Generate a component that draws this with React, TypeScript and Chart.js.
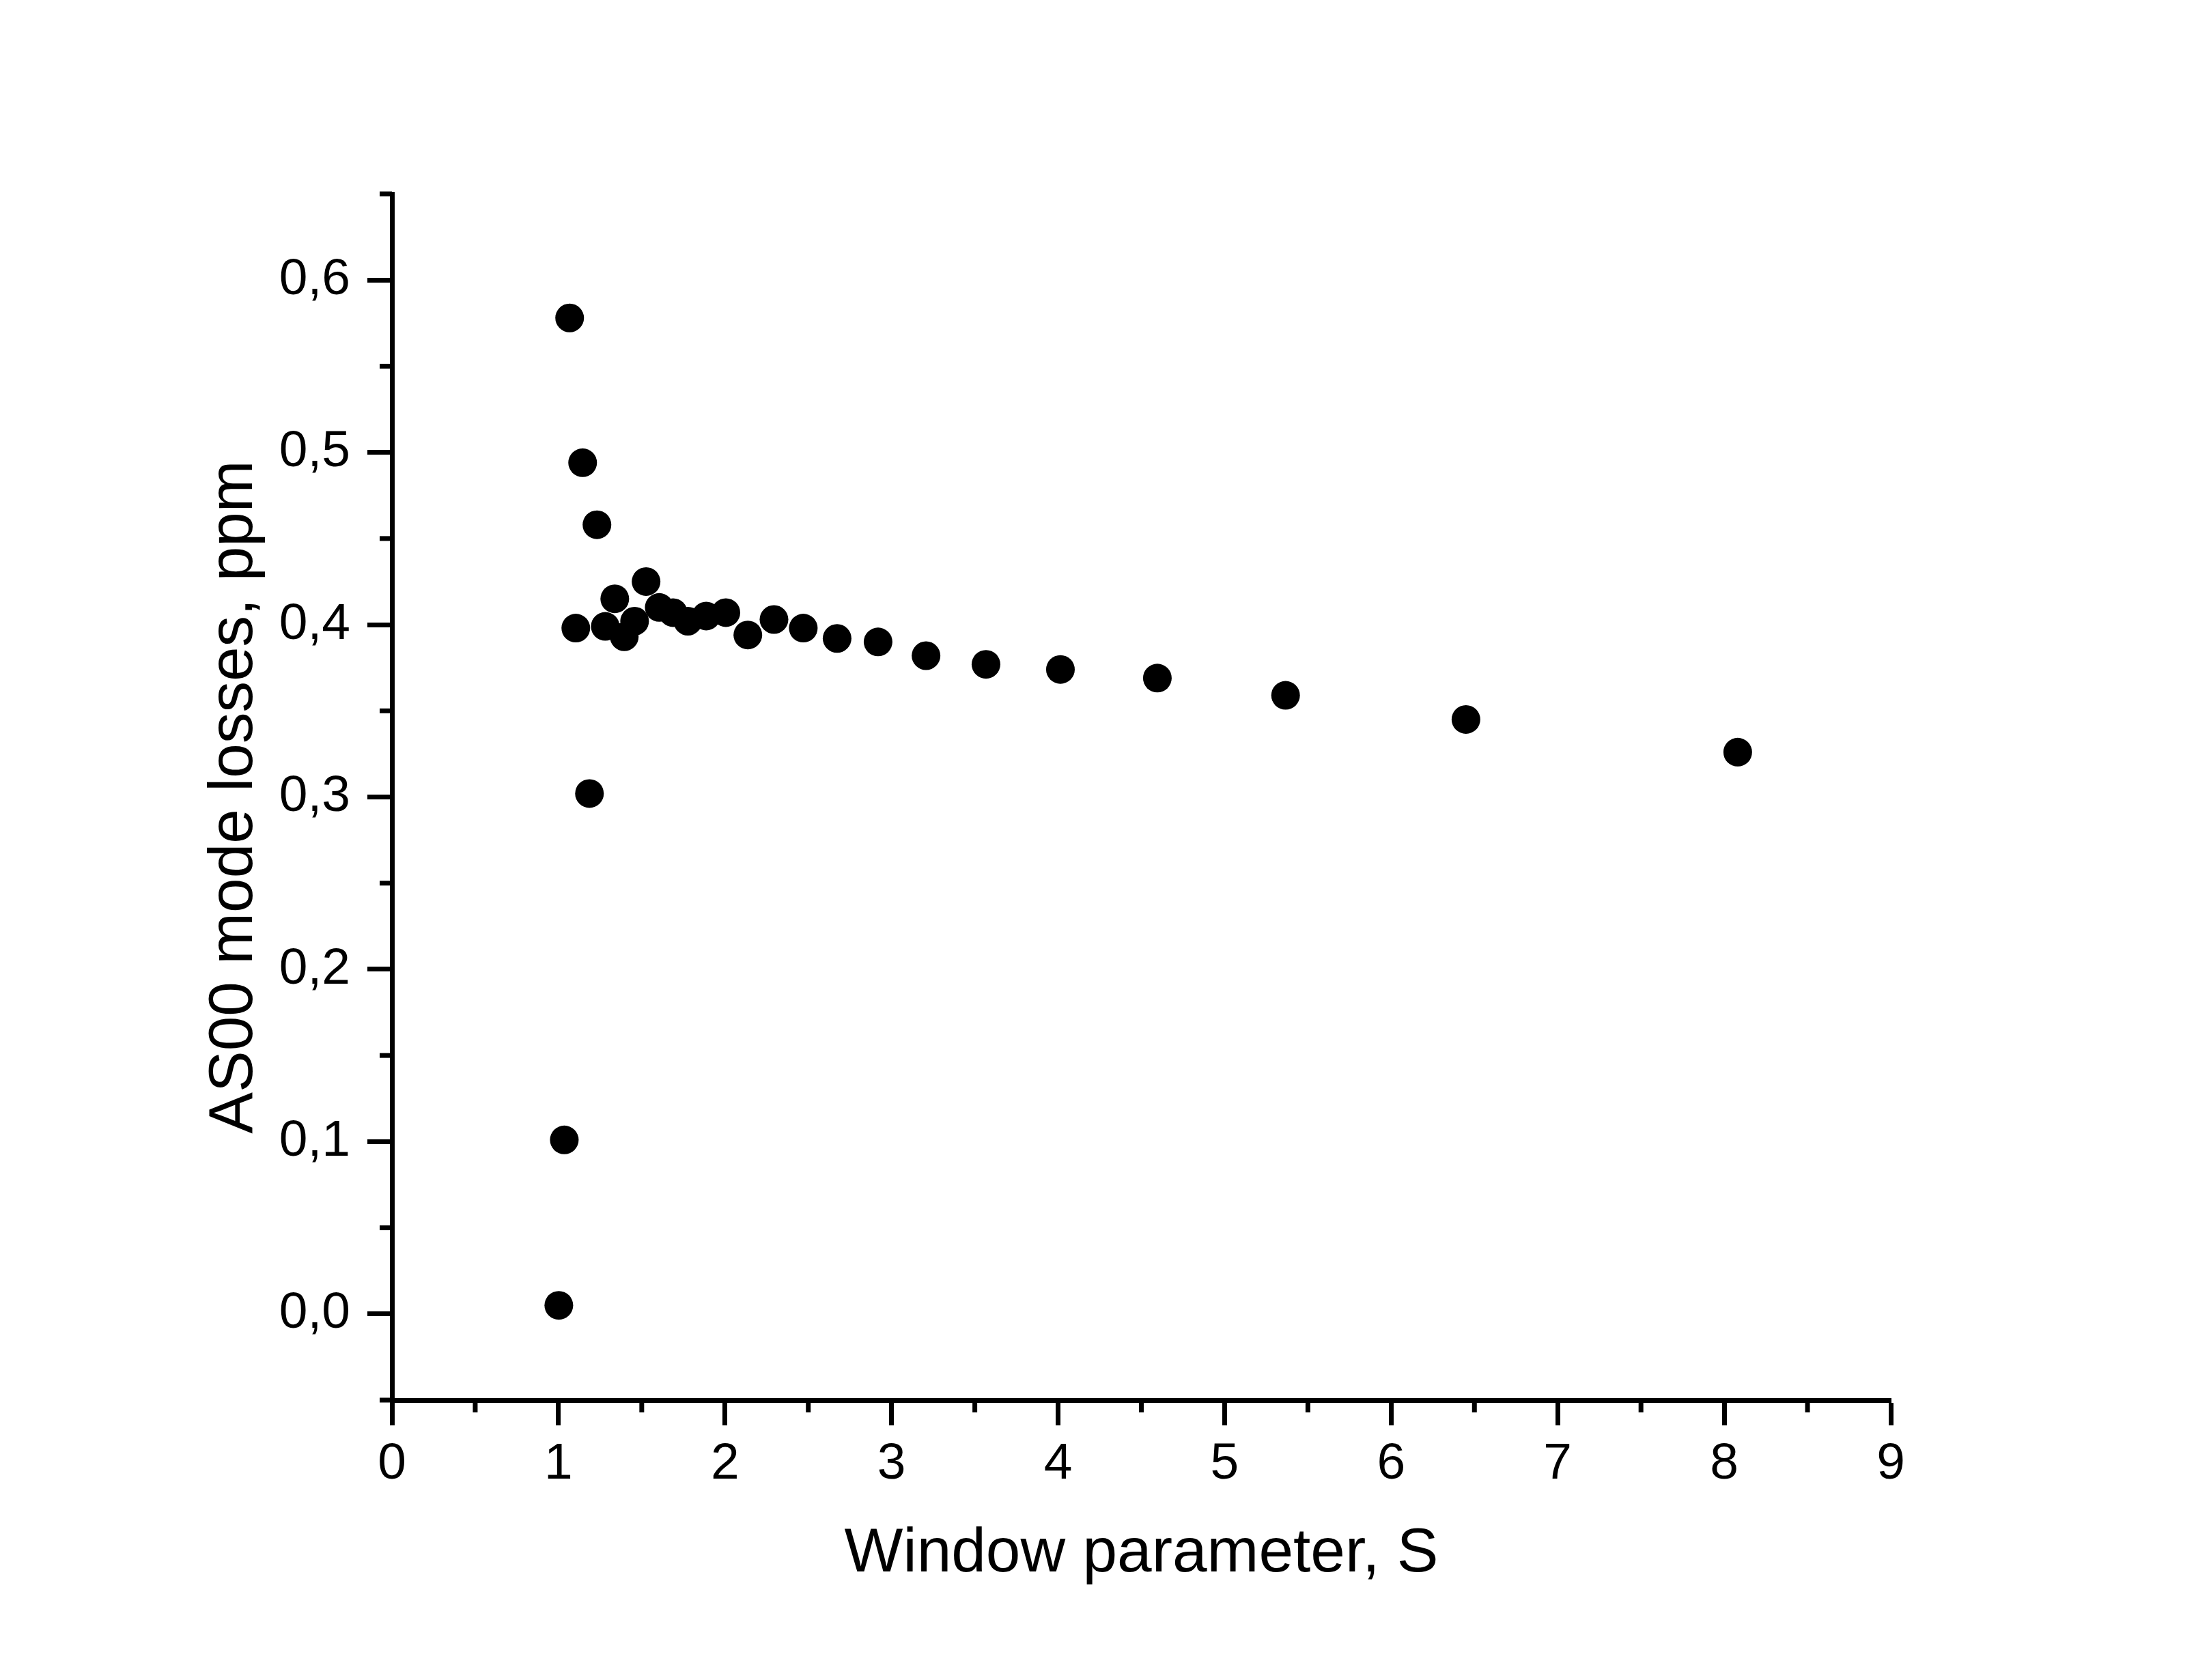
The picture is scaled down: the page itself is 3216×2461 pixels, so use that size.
import React, { useEffect, useRef } from 'react';
import { Chart, registerables } from 'chart.js';

Chart.register(...registerables);

// Window parameter S
const sValues = [1.002, 1.035, 1.067, 1.104, 1.145, 1.186, 1.231, 1.281, 1.338, 1.395, 1.457, 1.526, 1.605, 1.688, 1.777, 1.887, 2.005, 2.137, 2.294, 2.470, 2.673, 2.919, 3.207, 3.567, 4.014, 4.596, 5.366, 6.449, 8.081];
// AS00 mode losses, ppm
const lossValues = [0.005, 0.101, 0.578, 0.398, 0.494, 0.302, 0.458, 0.399, 0.415, 0.393, 0.402, 0.425, 0.410, 0.407, 0.402, 0.405, 0.407, 0.394, 0.403, 0.398, 0.392, 0.390, 0.382, 0.377, 0.374, 0.369, 0.359, 0.345, 0.326];

const xMajorTicks = [0, 1, 2, 3, 4, 5, 6, 7, 8, 9];
const xMinorTicks = [0.5, 1.5, 2.5, 3.5, 4.5, 5.5, 6.5, 7.5, 8.5];
const yMajorTicks = [0, 0.1, 0.2, 0.3, 0.4, 0.5, 0.6];
const yMinorTicks = [-0.05, 0.05, 0.15, 0.25, 0.35, 0.45, 0.55, 0.65];

const xTitle = 'Window parameter, S';
const yTitle = 'AS00 mode losses, ppm';

const FONT = '"Liberation Sans", Arial, sans-serif';

const minorTicksPlugin = {
  id: 'minorTicks',
  afterDraw(chart: any) {
    const { ctx, chartArea, scales } = chart;
    ctx.save();
    ctx.strokeStyle = '#000';
    ctx.lineWidth = 7;
    ctx.lineCap = 'butt';
    xMinorTicks.forEach((v) => {
      const px = scales.x.getPixelForValue(v);
      ctx.beginPath();
      ctx.moveTo(px, chartArea.bottom);
      ctx.lineTo(px, chartArea.bottom + 18);
      ctx.stroke();
    });
    yMinorTicks.forEach((v) => {
      const py = scales.y.getPixelForValue(v);
      ctx.beginPath();
      ctx.moveTo(chartArea.left, py);
      ctx.lineTo(chartArea.left - 18, py);
      ctx.stroke();
    });
    ctx.restore();
  },
};

export default function App() {
  const canvasRef = useRef<HTMLCanvasElement | null>(null);

  useEffect(() => {
    const canvas = canvasRef.current;
    if (!canvas) return;
    const chart = new Chart(canvas, {
      type: 'scatter',
      data: {
        datasets: [
          {
            data: sValues.map((s, i) => ({ x: s, y: lossValues[i] })),
            backgroundColor: '#000',
            borderColor: '#000',
            borderWidth: 0,
            pointRadius: 21,
            pointHoverRadius: 21,
          },
        ],
      },
      options: {
        animation: false,
        responsive: false,
        devicePixelRatio: 1,
        layout: { padding: { left: 0, right: 447, top: 284, bottom: 0 } },
        plugins: {
          legend: { display: false },
          tooltip: { enabled: false },
          title: { display: false },
        },
        scales: {
          x: {
            type: 'linear',
            min: 0,
            max: 9,
            afterBuildTicks: (scale: any) => {
              scale.ticks = xMajorTicks.map((v) => ({ value: v }));
            },
            afterFit: (scale: any) => {
              scale.height = 410;
            },
            grid: {
              display: true,
              drawOnChartArea: false,
              drawTicks: true,
              tickLength: 37,
              tickWidth: 7,
              tickColor: '#000',
              color: '#000',
            },
            border: { display: true, color: '#000', width: 7 },
            ticks: {
              color: '#000',
              padding: 12,
              maxRotation: 0,
              autoSkip: false,
              font: { family: FONT, size: 75 },
              callback: (v: any) => String(v),
            },
            title: {
              display: true,
              text: xTitle,
              color: '#000',
              font: { family: FONT, size: 91 },
              padding: { top: 0, bottom: 129 },
            },
          },
          y: {
            type: 'linear',
            min: -0.05,
            max: 0.65,
            afterBuildTicks: (scale: any) => {
              scale.ticks = yMajorTicks.map((v) => ({ value: v }));
            },
            afterFit: (scale: any) => {
              scale.width = 574;
            },
            grid: {
              display: true,
              drawOnChartArea: false,
              drawTicks: true,
              tickLength: 36,
              tickWidth: 7,
              tickColor: '#000',
              color: '#000',
            },
            border: { display: true, color: '#000', width: 7 },
            ticks: {
              color: '#000',
              padding: 25,
              autoSkip: false,
              font: { family: FONT, size: 75 },
              callback: (v: any) => Number(v).toFixed(1).replace('.', ','),
            },
            title: {
              display: true,
              text: yTitle,
              color: '#000',
              font: { family: FONT, size: 91 },
              padding: { top: 289, bottom: 0 },
            },
          },
        },
      },
      plugins: [minorTicksPlugin],
    });
    return () => chart.destroy();
  }, []);

  return (
    <div style={{ position: 'absolute', left: 0, top: 0, width: 3216, height: 2461, background: '#fff' }}>
      <canvas ref={canvasRef} width={3216} height={2461} style={{ display: 'block', width: 3216, height: 2461 }} />
    </div>
  );
}
